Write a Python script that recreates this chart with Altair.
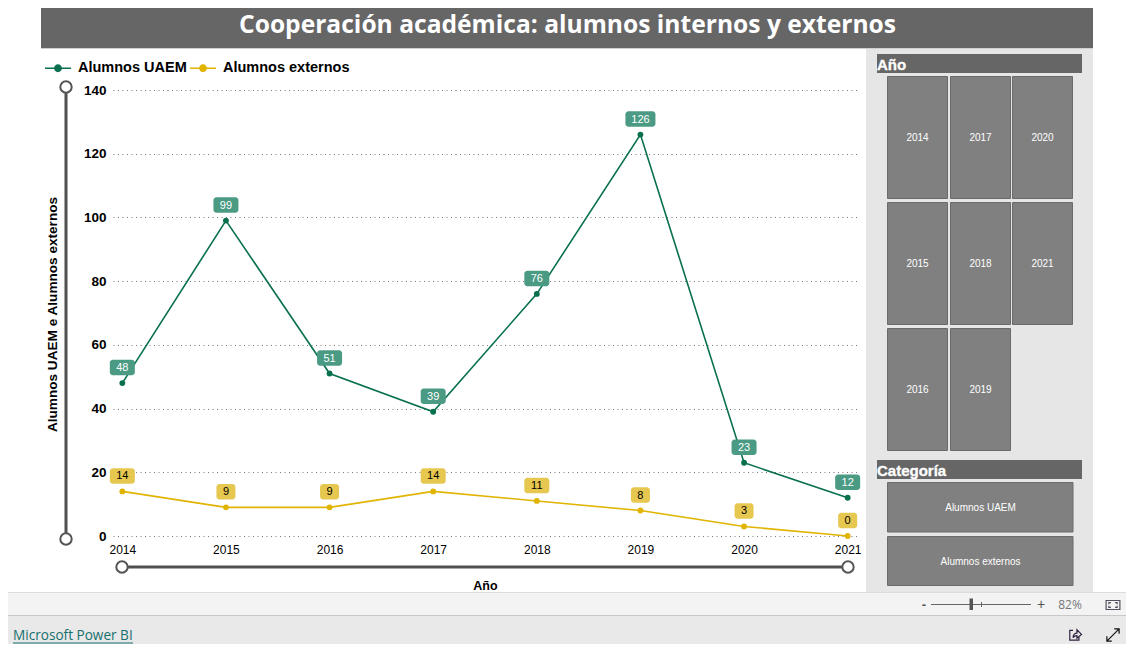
import altair as alt
import pandas as pd

# ---- chart values ----
years = ["2014", "2015", "2016", "2017", "2018", "2019", "2020", "2021"]
alumnos_uaem = [48, 99, 51, 39, 76, 126, 23, 12]
alumnos_externos = [14, 9, 9, 14, 11, 8, 3, 0]
series_names = ["Alumnos UAEM", "Alumnos externos"]
y_ticks = [0, 20, 40, 60, 80, 100, 120, 140]
title_text = "Cooperación académica: alumnos internos y externos"
slicer_rows = [["2014", "2017", "2020"], ["2015", "2018", "2021"], ["2016", "2019"]]

GREEN, YELLOW = "#08704F", "#E0B400"
BADGE_GREEN, BADGE_YELLOW = "#4A9A84", "#E6C74F"
PANEL_DARK, BTN, BTN_EDGE = "#666666", "#808080", "#6A6A6A"

# page coordinates of the plot area's top-left corner
VX, VY = 113, 90
VW, VH = 744, 446


def px(x):
    return x - VX


def py(y):
    return y - VY


one = pd.DataFrame({"a": [0]})


def rect(x0, y0, x1, y1, fill, stroke=None, sw=1):
    kw = {"fill": fill}
    if stroke:
        kw.update(stroke=stroke, strokeWidth=sw)
    return alt.Chart(one).mark_rect(**kw).encode(
        x=alt.value(px(x0)), x2=alt.value(px(x1)),
        y=alt.value(py(y0)), y2=alt.value(py(y1)))


def label(x, y, s, size=10, color="white", weight="normal", align="center", font="Liberation Sans", thick=0):
    kw = {}
    if thick:
        kw.update(stroke=color, strokeWidth=thick)
    return alt.Chart(one).mark_text(
        text=s, fontSize=size, color=color, fontWeight=weight, align=align,
        baseline="middle", font=font, **kw).encode(x=alt.value(px(x)), y=alt.value(py(y)))


def knob(x, y):
    return alt.Chart(one).mark_point(
        shape="circle", filled=True, fill="white", stroke="#555555", strokeWidth=2,
        size=130, opacity=1).encode(x=alt.value(px(x)), y=alt.value(py(y)))


def icon(x, y, path, size, color="#333333", sw=1.2):
    return alt.Chart(one).mark_point(
        shape=path, filled=False, stroke=color, strokeWidth=sw, size=size, opacity=1
    ).encode(x=alt.value(px(x)), y=alt.value(py(y)))


chrome = [
    rect(41, 0, 1093, 48, PANEL_DARK),
    rect(41, 48, 1093, 49, "#D0D0D0"),
    label(567.5, 25.5, title_text, size=24.6, weight="bold", font="Open Sans"),
    # sidebar
    rect(866, 49, 1093, 592, "#E6E6E6"),
    rect(877, 54, 1082, 73, PANEL_DARK),
    label(877, 64.5, "Año", size=15, weight="bold", align="left", thick=0.3),
    rect(877, 460, 1082, 479, PANEL_DARK),
    label(877, 470.5, "Categoría", size=15, weight="bold", align="left", thick=0.3),
]

col_x = [887.5, 950.5, 1012.5]
row_y = [76.5, 202.5, 328.5]
for r, row in enumerate(slicer_rows):
    for c, yr in enumerate(row):
        chrome.append(rect(col_x[c], row_y[r], col_x[c] + 60, row_y[r] + 122, BTN, BTN_EDGE))
        chrome.append(label(col_x[c] + 30, row_y[r] + 61, yr))
for name, y0, y1 in [(series_names[0], 482.5, 532), (series_names[1], 536.5, 585.5)]:
    chrome.append(rect(887.5, y0, 1073, y1, BTN, BTN_EDGE))
    chrome.append(label(980.5, (y0 + y1) / 2 + 0.5, name))

chrome += [
    # zoom sliders of the chart
    rect(64.5, 87, 67.5, 539, "#505050"),
    rect(122, 565.5, 848, 568.5, "#505050"),
    knob(66, 87), knob(66, 539), knob(122, 567), knob(848, 567),
    # status bars
    rect(0, 592, 1134, 615, "#F3F3F3"),
    rect(0, 592, 1134, 593, "#DCDCDC"),
    rect(0, 615, 1134, 652, "#E9E9E9"),
    rect(0, 615, 1134, 616, "#C8C8C8"),
    label(13, 636, "Microsoft Power BI", size=13.6, color="#17706E", align="left", font="Open Sans"),
    rect(13, 642.5, 133, 643.5, "#17706E"),
    label(924, 604.5, "-", size=13, color="#555555", weight="bold"),
    rect(931, 604, 1031, 605, "#666666"),
    rect(969.5, 598.5, 973, 610, "#555555"),
    rect(981, 602, 982, 607, "#666666"),
    label(1041, 604.5, "+", size=14, color="#555555"),
    label(1070, 604.5, "82%", size=12, color="#777777", font="Open Sans"),
    icon(1113, 605, "M-1,-.65H1V.65H-1Z", 190, "#55505F"),
    icon(1113, 605, "M-.6,-.1V-.35H-.3M.3,-.35H.6V-.1M.6,.1V.35H.3M-.3,.35H-.6V.1", 190, "#55505F"),
    icon(1075, 635, "M-.3,-.7H-.8V.8H.6V.2M-.3,.4C-.3,-.1 0,-.3 .3,-.3V-.8L1,-.1L.3,.5V.1C0,.1 -.2,.2 -.3,.4Z", 170, "#302040"),
    icon(1113, 635, "M-1,1L1,-1M.2,-1H1V-.2M-1,.2V1H-.2", 150, "#111111"),
]

# ---- data layers ----
rows = []
for s, vals in zip(series_names, [alumnos_uaem, alumnos_externos]):
    for y, v in zip(years, vals):
        rows.append({"Año": y, "serie": s, "valor": v, "etiqueta": str(v), "dig": len(str(v))})
df = pd.DataFrame(rows)

x_enc = alt.X(
    "Año:O",
    scale=alt.Scale(type="point", padding=0.09),
    axis=alt.Axis(
        title="Año", titleFontSize=12.5, titleFontWeight="bold", titleColor="black",
        titleFont="Liberation Sans", titleX=px(485), titleY=49, titleAlign="center",
        titleBaseline="middle",
        labelAngle=0, labelFontSize=12, labelColor="black", labelFont="Liberation Sans",
        labelPadding=8, ticks=False, domain=False, grid=False),
)
y_enc = alt.Y(
    "valor:Q",
    scale=alt.Scale(domain=[0, 140], nice=False),
    axis=alt.Axis(
        title="Alumnos UAEM e Alumnos externos", titleFontSize=13.6, titleFontWeight="bold",
        titleColor="black", titleFont="Liberation Sans", titleX=px(52), titleY=py(314),
        titleAlign="center", titleBaseline="middle", values=y_ticks, labelFontSize=13.5,
        labelFontWeight="bold",
        labelColor="black", labelFont="Liberation Sans", labelPadding=7, ticks=False,
        domain=False, grid=True, gridDash=[1, 3.5], gridColor="#777777", gridWidth=1),
)
legend_symbol = "M-1,-.06H1V.06H-1ZM.3,0A.3,.3 0 1 1 -.3,0A.3,.3 0 1 1 .3,0Z"
color_enc = alt.Color(
    "serie:N",
    sort=series_names,
    scale=alt.Scale(domain=series_names, range=[GREEN, YELLOW]),
    legend=alt.Legend(
        title=None, orient="none", legendX=px(45), legendY=py(55), direction="horizontal",
        labelFontSize=14.5, labelFontWeight="bold", labelColor="black",
        labelFont="Liberation Sans", symbolType=legend_symbol, symbolSize=676,
        symbolStrokeWidth=0, labelOffset=7, columnPadding=3),
)

base = alt.Chart(df).encode(x=x_enc, y=y_enc)
line_layers = [
    base.transform_filter(alt.datum.serie == s).mark_line(strokeWidth=1.6, color=c)
    for s, c in zip(series_names, [GREEN, YELLOW])
]
points = base.mark_point(filled=True, size=34, opacity=1).encode(color=color_enc)

data_layers = [*line_layers, points]
widths = {1: 19, 2: 25, 3: 30}
for s, col, tcol in [(series_names[0], BADGE_GREEN, "white"),
                     (series_names[1], BADGE_YELLOW, "black")]:
    sub = base.transform_filter(alt.datum.serie == s)
    for d, w in widths.items():
        data_layers.append(
            sub.transform_filter(alt.datum.dig == d)
            .mark_rect(width=w, height=15.5, cornerRadius=3, fill=col, yOffset=-15.5, opacity=1)
        )
    data_layers.append(
        sub.mark_text(fontSize=11, color=tcol, baseline="middle", yOffset=-15,
                      font="Liberation Sans").encode(text="etiqueta:N")
    )

chart = alt.layer(*chrome, *data_layers).properties(
    width=VW, height=VH,
    autosize=alt.AutoSizeParams(type="none"),
    padding={"left": VX - 8, "top": VY - 8, "right": 1118 - (VX - 8) - VW, "bottom": 636 - (VY - 8) - VH},
).configure_view(strokeWidth=0)

chart.save("out.html", embed_options={"renderer": "svg", "actions": False})
